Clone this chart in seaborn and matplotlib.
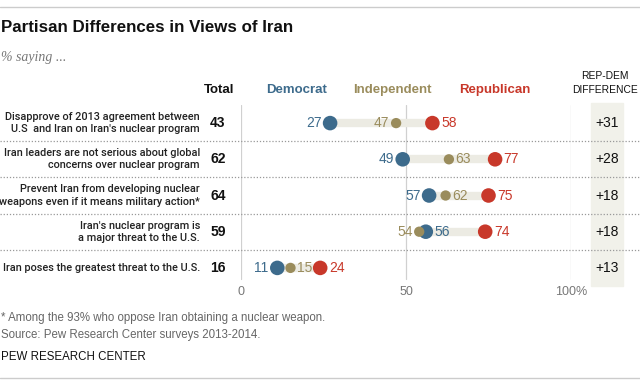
import matplotlib.pyplot as plt
import matplotlib.transforms as mtrans
from matplotlib.lines import Line2D
from matplotlib.patches import Rectangle
import pandas as pd
import seaborn as sns

sns.set_theme(style="white")
plt.rcParams['font.family'] = ['Liberation Sans', 'DejaVu Sans']

# data
statements = [
    "Disapprove of 2013 agreement between\nU.S  and Iran on Iran's nuclear program",
    "Iran leaders are not serious about global\nconcerns over nuclear program",
    "Prevent Iran from developing nuclear\nweapons even if it means military action*",
    "Iran's nuclear program is\na major threat to the U.S.",
    "Iran poses the greatest threat to the U.S.",
]
total = [43, 62, 64, 59, 16]
democrat = [27, 49, 57, 56, 11]
independent = [47, 63, 62, 54, 15]
republican = [58, 77, 75, 74, 24]
rep_dem_diff = ["+31", "+28", "+18", "+18", "+13"]
x_ticks = [0, 50, 100]
x_tick_labels = ["0", "50", "100%"]

BLUE = "#3d6b8c"
OLIVE = "#9a8c5c"
RED = "#c8382a"
BAR = "#ecebe3"
GREY = "#777777"

# label side for independent value (-1 left, +1 right)
ind_side = [-1, 1, 1, -1, 1]

W, H = 640, 385
fig = plt.figure(figsize=(W / 100, H / 100), dpi=100)


def fx(px):
    return px / W


def fy(py):
    return 1 - py / H


ax = fig.add_axes([fx(241), fy(286), fx(571) - fx(241), fy(105) - fy(286)])
ax.set_xlim(0, 100)
ax.set_ylim(4.5, -0.5)
for s in ax.spines.values():
    s.set_visible(False)
ax.set_yticks([])
ax.set_xticks(x_ticks)
ax.set_xticklabels(x_tick_labels, color=GREY, fontsize=9)
ax.tick_params(axis='x', length=0, pad=0)
for t in x_ticks:
    ax.plot([t, t], [4.3, -0.5], color="#d0d0d0", lw=0.9, zorder=0)

rows = list(range(len(statements)))
lo = [min(a, b, c) for a, b, c in zip(democrat, independent, republican)]
hi = [max(a, b, c) for a, b, c in zip(democrat, independent, republican)]
ax.hlines(rows, lo, hi, color=BAR, lw=6, zorder=1)

df = pd.DataFrame({
    "row": rows * 3,
    "value": democrat + independent + republican,
    "party": ["Democrat"] * 5 + ["Independent"] * 5 + ["Republican"] * 5,
})
sns.scatterplot(data=df, x="value", y="row", hue="party", size="party",
                palette={"Democrat": BLUE, "Independent": OLIVE, "Republican": RED},
                sizes={"Democrat": 110, "Independent": 55, "Republican": 110},
                linewidth=0, legend=False, ax=ax, zorder=3)
ax.set_xlabel("")
ax.set_ylabel("")

off = 2.6
for i in rows:
    left = democrat[i] <= independent[i]
    ax.text(democrat[i] - off if left else democrat[i] + off, i,
            str(democrat[i]), color=BLUE, fontsize=10, va="center",
            ha="right" if left else "left")
    ax.text(independent[i] + ind_side[i] * 2.0, i, str(independent[i]), color=OLIVE,
            fontsize=10, va="center", ha="left" if ind_side[i] > 0 else "right")
    ax.text(republican[i] + off, i, str(republican[i]), color=RED, fontsize=10,
            va="center", ha="left")

# statements, totals, differences (x in figure, y in data)
tr = mtrans.blended_transform_factory(fig.transFigure, ax.transData)
fig.add_artist(Rectangle((fx(591), fy(286)), fx(623) - fx(591), fy(103) - fy(286),
                         transform=fig.transFigure, color="#f1f1ea", zorder=0))
for i in rows:
    fig.text(fx(200), i, statements[i], transform=tr, ha="right", va="center",
             family="Roboto", fontweight="medium", fontsize=7.8,
             color="#222222", linespacing=1.3)
    fig.text(fx(218), i, str(total[i]), transform=tr, ha="center", va="center",
             fontsize=10, fontweight="bold", color="#111111")
    fig.text(fx(607), i, rep_dem_diff[i], transform=tr, ha="center", va="center",
             fontsize=10, color="#111111")
for y in [0.5, 1.5, 2.5, 3.5]:
    fig.add_artist(Line2D([0, 1], [y, y], transform=tr, color="#999999", lw=0.9,
                          ls=(0, (1, 1.5))))

# headers
fig.text(fx(219), fy(90), "Total", ha="center", va="center", fontsize=9.5,
         fontweight="bold", color="#111111")
fig.text(fx(297), fy(90), "Democrat", ha="center", va="center", fontsize=9.5,
         fontweight="bold", color=BLUE)
fig.text(fx(392), fy(90), "Independent", ha="center", va="center", fontsize=9.5,
         fontweight="bold", color=OLIVE)
fig.text(fx(495), fy(90), "Republican", ha="center", va="center", fontsize=9.5,
         fontweight="bold", color=RED)
fig.text(fx(605), fy(83), "REP-DEM\nDIFFERENCE", ha="center", va="center",
         fontsize=7.4, color="#111111", linespacing=1.4)

# title block
fig.add_artist(Line2D([0, 1], [fy(7), fy(7)], transform=fig.transFigure,
                      color="#cccccc", lw=1))
fig.add_artist(Line2D([0, 1], [fy(378), fy(378)], transform=fig.transFigure,
                      color="#cccccc", lw=1))
fig.text(fx(1), fy(27), "Partisan Differences in Views of Iran", ha="left",
         va="center", fontsize=12.2, fontweight="bold", color="#111111")
fig.text(fx(1), fy(57), "% saying ...", ha="left", va="center", fontsize=10,
         style="italic", color=GREY, family=["Liberation Serif", "DejaVu Serif"])
fig.text(fx(1), fy(318), "* Among the 93% who oppose Iran obtaining a nuclear weapon.",
         ha="left", va="center", fontsize=8.3, color="#666666")
fig.text(fx(1), fy(335), "Source: Pew Research Center surveys 2013-2014.",
         ha="left", va="center", fontsize=8.3, color="#666666")
fig.text(fx(1), fy(357), "PEW RESEARCH CENTER", ha="left", va="center",
         fontsize=8.3, color="#111111")

fig.savefig("out.png", dpi=100)
